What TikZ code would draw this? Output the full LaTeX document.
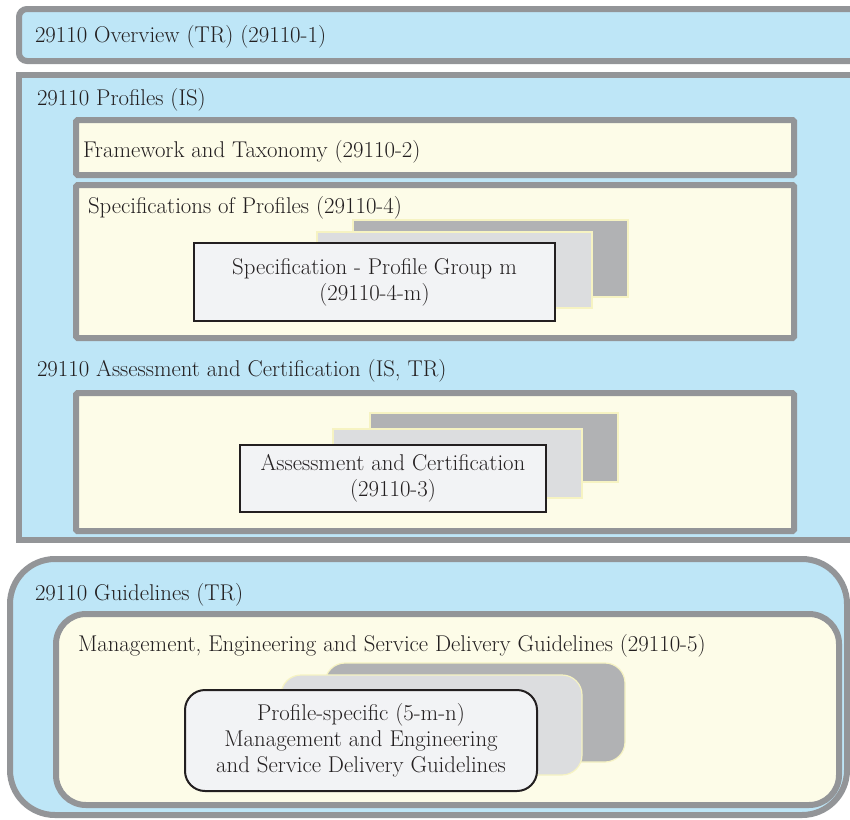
\documentclass[tikz,border=0pt]{standalone}
\usepackage{tikz}

\definecolor{boxBlue}{HTML}{BEE6F7}
\definecolor{boxGray}{HTML}{939598}
\definecolor{boxYellow}{HTML}{FDFCE8}
\definecolor{cardFront}{HTML}{F2F3F5}
\definecolor{cardMid}{HTML}{DCDDDF}
\definecolor{cardBack}{HTML}{B1B2B4}
\definecolor{cardEdge}{HTML}{F6F3C2}
\definecolor{cardLine}{HTML}{231F20}

\begin{document}
\begin{tikzpicture}
      [x=1pt, y=-1pt,
       font=\fontsize{22.8}{26}\selectfont,
       every node/.style={inner sep=0pt, outer sep=0pt, anchor=north west},
       partBox/.style={draw=boxGray, line width=6pt, fill=boxBlue},
       docBox/.style={draw=boxGray, line width=6pt, fill=boxYellow},
       cardBack/.style={draw=cardEdge, line width=1.2pt, fill=cardBack},
       cardMid/.style={draw=cardEdge, line width=1.2pt, fill=cardMid},
       cardFront/.style={draw=cardLine, line width=2pt, fill=cardFront,
                         align=center, text=cardLine},
       label/.style={anchor=west, text=cardLine}]
      \clip (0,0) rectangle (850,819);

      % overview
      \node[partBox, rounded corners=8pt, minimum width=860pt, minimum height=52pt] (ovw) at (19,9) {};
      \node[label] (ovwText) at (35,37) {29110 Overview (TR) (29110-1)};

      % profiles
      \node[partBox, minimum width=860pt, minimum height=465pt] (prof) at (19,75) {};
      \node[label] (profText) at (37,100) {29110 Profiles (IS)};

      \node[docBox, rounded corners=1.5pt, minimum width=718pt, minimum height=55pt] (frame) at (76,120) {};
      \node[label] (frameText) at (83,152) {Framework and Taxonomy (29110-2)};

      \node[docBox, rounded corners=1.5pt, minimum width=718pt, minimum height=153pt] (spec) at (76,185) {};
      \node[label] (specText) at (88,208) {Specifications of Profiles (29110-4)};
      \node[cardBack, minimum width=275pt, minimum height=77pt] (specBack) at (353,220) {};
      \node[cardMid, minimum width=275pt, minimum height=76pt] (specMid) at (317,232) {};
      \node[cardFront, minimum width=361pt, minimum height=78pt] (specFront) at (194,243)
        {Specification - Profile Group m\\(29110-4-m)};

      \node[label] (assText) at (37,371) {29110 Assessment and Certification (IS, TR)};
      \node[docBox, rounded corners=1.5pt, minimum width=718pt, minimum height=138pt] (ass) at (76,393) {};
      \node[cardBack, minimum width=248pt, minimum height=69pt] (assBack) at (370,413) {};
      \node[cardMid, minimum width=249pt, minimum height=69pt] (assMid) at (333,429) {};
      \node[cardFront, minimum width=306pt, minimum height=67pt] (assFront) at (240,445)
        {Assessment and Certification\\(29110-3)};

      % guidelines
      \node[partBox, rounded corners=45pt, minimum width=837pt, minimum height=256pt] (guide) at (10,559) {};
      \node[label] (guideText) at (35,595) {29110 Guidelines (TR)};

      \node[docBox, rounded corners=30pt, minimum width=783pt, minimum height=191pt] (mgmt) at (56,614) {};
      \node[label] (mgmtText) at (78,646) {Management, Engineering and Service Delivery Guidelines (29110-5)};
      \node[cardBack, rounded corners=20pt, minimum width=300pt, minimum height=99pt] (mgmtBack) at (325,663) {};
      \node[cardMid, rounded corners=20pt, minimum width=301pt, minimum height=100pt] (mgmtMid) at (281,675) {};
      \node[cardFront, rounded corners=20pt, minimum width=352pt, minimum height=101pt] (mgmtFront) at (185,690)
        {Profile-specific (5-m-n)\\Management and Engineering\\and Service Delivery Guidelines};
    \end{tikzpicture}
\end{document}
